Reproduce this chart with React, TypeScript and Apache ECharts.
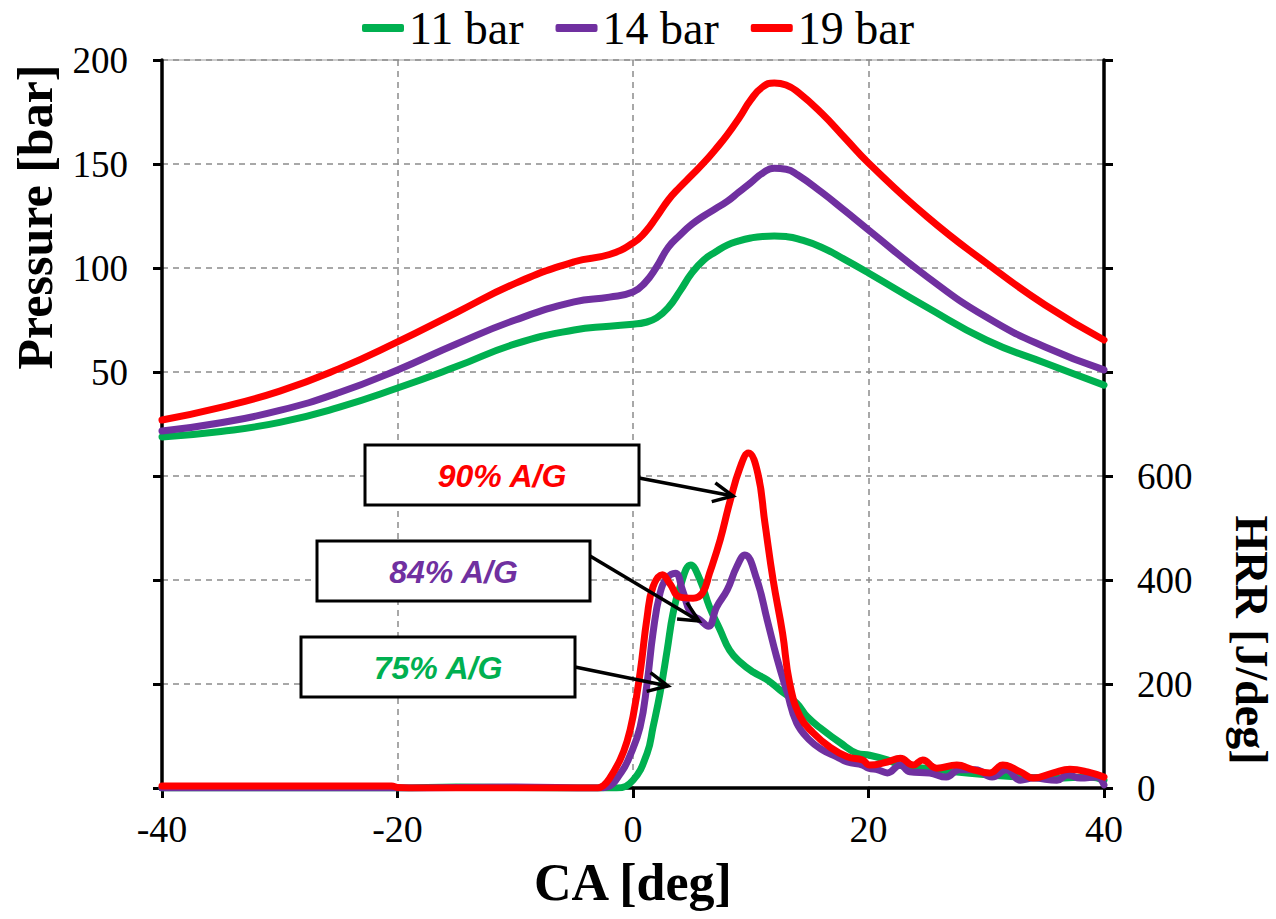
import React, { useEffect, useRef } from "react";
import * as echarts from "echarts";

// ---------- data ----------
const seriesNames = ["11 bar", "14 bar", "19 bar"];
const seriesColors = ["#00B050", "#7030A0", "#FF0000"];

// Pressure (left axis), sampled on a shared crank-angle grid
const caPressure = [-40, -35, -30, -25, -20, -15, -10, -5, -2, 0, 1, 2, 3, 4, 5, 6, 7, 8, 9, 10, 11, 12, 13, 14, 16, 18, 20, 25, 30, 35, 40];
const p11 = [18.8, 21.4, 25.8, 33, 42.3, 52.6, 63.5, 70.2, 72, 73, 73.8, 76, 81, 89, 97.6, 103.8, 107.7, 111, 113, 114.4, 115.2, 115.4, 115.1, 114, 110, 104, 97.6, 81, 65.4, 54.3, 43.7];
const p14 = [21.6, 25.6, 31.5, 40, 51, 63.5, 75, 83.7, 86, 88.5, 92.8, 100.5, 110, 115.9, 121, 125, 128.5, 132, 136.5, 141, 145.6, 148, 147.5, 144.7, 136.5, 127.5, 118.3, 95.7, 76.4, 62, 51];
const p19 = [26.9, 33, 40.8, 51.5, 64.5, 78.6, 92.6, 103, 106.5, 112, 117, 124.5, 132.7, 139, 144.7, 150.5, 157, 164, 172, 180.8, 187, 189, 188, 184.6, 174.5, 162.5, 150.5, 124.5, 102.4, 82.2, 65.4];

// Heat release rate (right axis)
const ca11 = [-40, -20, -15, -10, -5, -1.4, 0, 1.2, 1.7, 2.3, 2.9, 3.4, 4, 4.9, 5.7, 6.5, 7.4, 8.2, 9.1, 10.2, 11.4, 12.5, 13.9, 14.8, 16.1, 17.6, 19, 20.1, 21.6, 23.3, 25, 27.3, 30.2, 33, 35.9, 38.8, 40];
const hrr11 = [0, 0, 2, 1, 0, 0, 15, 67, 117, 183, 265, 336, 387, 429, 400, 348, 304, 265, 242, 223, 208, 188, 163, 137, 112, 87, 67, 63, 54, 40, 38, 31, 25, 21, 19, 21, 15];

const ca14 = [-40, -20, -10, -3, -2.2, -1, -0.3, 0.6, 1.2, 1.7, 2.3, 2.9, 3.6, 4.2, 4.9, 5.7, 6.4, 7.1, 8, 8.8, 9.5, 10.5, 11.4, 12.2, 13.1, 13.9, 15, 16.1, 17.3, 18.2, 19.5, 20, 20.8, 21.6, 22.7, 23.5, 25.2, 26.6, 27.7, 29.1, 30.5, 31.7, 32.9, 34, 36, 36.9, 38, 39.4, 40];
const hrr14 = [0, 0, 2, 0, 2, 30, 60, 117, 202, 298, 375, 404, 413, 381, 336, 323, 311, 348, 381, 425, 448, 402, 323, 252, 183, 125, 92, 73, 60, 50, 44, 38, 35, 29, 44, 31, 29, 21, 35, 35, 21, 35, 15, 19, 15, 25, 19, 21, 6];

const ca19 = [-40, -20.5, -20, -18, -15, -10, -5, -3, -2.5, -2, -1.1, -0.5, 0, 0.6, 1.2, 1.7, 2.5, 3.1, 4, 5.1, 5.9, 6.5, 7.4, 8.2, 9.1, 9.8, 10.6, 11.2, 11.9, 12.7, 13.3, 14.2, 15.3, 16.7, 18.2, 19.5, 20.1, 21.6, 22.7, 23.8, 24.6, 25.8, 27.5, 28.9, 30.3, 31.4, 32.9, 34, 35.7, 37.1, 38.6, 40];
const hrr19 = [4, 4, 1, 0, 0, 0, 0, 0, 5, 18, 54, 90, 137, 221, 329, 387, 410, 394, 367, 365, 375, 413, 477, 548, 617, 644, 605, 510, 400, 298, 202, 137, 106, 79, 60, 54, 44, 50, 57, 44, 54, 38, 44, 35, 29, 44, 31, 19, 29, 36, 31, 21];

const xTicks = { min: -40, max: 40, interval: 20 };
const pressureAxis = { min: -150, max: 200, interval: 50, labelFrom: 50 };
const hrrAxis = { min: 0, max: 1400, interval: 200, labelTo: 600 };

const annotations = [
  { text: "90% A/G", color: "#FF0000" },
  { text: "84% A/G", color: "#7030A0" },
  { text: "75% A/G", color: "#00B050" },
];

// ---------- helpers ----------
const zip = (xs: number[], ys: number[]) => xs.map((x, i) => [x, ys[i]]);

const serif = '"Liberation Serif", "Times New Roman", serif';

function arrow(x1: number, y1: number, x2: number, y2: number) {
  const ang = Math.atan2(y2 - y1, x2 - x1);
  const len = 22;
  const spread = 0.45;
  const a = [x2 - len * Math.cos(ang - spread), y2 - len * Math.sin(ang - spread)];
  const b = [x2 - len * Math.cos(ang + spread), y2 - len * Math.sin(ang + spread)];
  return [
    { type: "line", shape: { x1, y1, x2, y2 }, style: { stroke: "#000", lineWidth: 3.5 }, z: 100 },
    { type: "polyline", shape: { points: [a, [x2, y2], b] }, style: { stroke: "#000", lineWidth: 3.5, fill: null }, z: 100 },
  ];
}

function box(x: number, y: number, w: number, h: number, text: string, color: string) {
  return [
    { type: "rect", shape: { x, y, width: w, height: h }, style: { fill: "#fff", stroke: "#000", lineWidth: 3 }, z: 99 },
    {
      type: "text",
      x: x + w / 2,
      y: y + h / 2 + 1,
      z: 101,
      style: {
        text,
        fill: color,
        font: 'italic bold 32px "Liberation Sans", Arial, sans-serif',
        textAlign: "center",
        textVerticalAlign: "middle",
        align: "center",
        verticalAlign: "middle",
      },
    },
  ];
}

export default function App() {
  const ref = useRef<HTMLDivElement>(null);

  useEffect(() => {
    if (!ref.current) return;
    const chart = echarts.init(ref.current, null, { renderer: "svg" });

    const gridLine = { show: true, lineStyle: { color: "#8c8c8c", type: [6, 5], width: 1.5 } };

    const pressureData = [p11, p14, p19];
    const hrrX = [ca11, ca14, ca19];
    const hrrY = [hrr11, hrr14, hrr19];

    const series: any[] = [];
    for (let i = 0; i < 3; i++) {
      series.push({
        name: seriesNames[i],
        type: "line",
        yAxisIndex: 0,
        data: zip(caPressure, pressureData[i]),
        showSymbol: false,
        smooth: 0.5,
        lineStyle: { color: seriesColors[i], width: 7, cap: "round", join: "round" },
        itemStyle: { color: seriesColors[i] },
        z: 3 + i,
      });
    }
    for (let i = 0; i < 3; i++) {
      series.push({
        name: seriesNames[i],
        type: "line",
        yAxisIndex: 1,
        data: zip(hrrX[i], hrrY[i]),
        showSymbol: false,
        smooth: 0.45,
        lineStyle: { color: seriesColors[i], width: 7, cap: "round", join: "round" },
        itemStyle: { color: seriesColors[i] },
        z: 3 + i,
      });
    }

    const graphic: any[] = [
      {
        type: "text",
        x: 35,
        y: 217,
        rotation: Math.PI / 2,
        style: {
          text: "Pressure [bar]",
          font: `bold 50px ${serif}`,
          fill: "#000",
          textAlign: "center",
          textVerticalAlign: "middle",
          align: "center",
          verticalAlign: "middle",
        },
      },
      {
        type: "text",
        x: 1251,
        y: 640,
        rotation: -Math.PI / 2,
        style: {
          text: "HRR [J/deg]",
          font: `bold 46px ${serif}`,
          fill: "#000",
          textAlign: "center",
          textVerticalAlign: "middle",
          align: "center",
          verticalAlign: "middle",
        },
      },
      ...box(365, 445, 274, 60, annotations[0].text, annotations[0].color),
      ...box(317, 541, 273, 60, annotations[1].text, annotations[1].color),
      ...box(301, 637, 274, 60, annotations[2].text, annotations[2].color),
      ...arrow(639, 478, 733, 496),
      ...arrow(590, 556, 699, 621),
      ...arrow(575, 667, 668, 686),
    ];

    chart.setOption({
      animation: false,
      backgroundColor: "#fff",
      textStyle: { fontFamily: serif },
      legend: {
        data: seriesNames,
        top: 0,
        left: "center",
        icon: "roundRect",
        itemWidth: 42,
        itemHeight: 8,
        itemGap: 32,
        textStyle: { fontSize: 46, color: "#000", fontFamily: serif },
      },
      grid: {
        left: 162,
        right: 172,
        top: 60,
        bottom: 131,
        containLabel: false,
        outerBoundsMode: "none",
        show: true,
        borderColor: "#999",
        borderWidth: 1,
        backgroundColor: "transparent",
      },
      xAxis: {
        type: "value",
        min: xTicks.min,
        max: xTicks.max,
        interval: xTicks.interval,
        name: "CA [deg]",
        nameLocation: "middle",
        nameGap: 68,
        nameTextStyle: { fontSize: 52, fontWeight: "bold", color: "#000", fontFamily: serif },
        axisLine: { show: true, onZero: false, lineStyle: { color: "#000", width: 3.5 } },
        axisTick: { show: true, inside: false, length: 10, lineStyle: { color: "#000", width: 3 } },
        axisLabel: { fontSize: 38, color: "#000", margin: 22, fontFamily: serif },
        splitLine: gridLine,
      },
      yAxis: [
        {
          type: "value",
          position: "left",
          min: pressureAxis.min,
          max: pressureAxis.max,
          interval: pressureAxis.interval,
          axisLine: { show: true, onZero: false, lineStyle: { color: "#000", width: 3.5 } },
          axisTick: { show: true, inside: false, length: 9, lineStyle: { color: "#000", width: 3 } },
          axisLabel: {
            fontSize: 37,
            color: "#000",
            margin: 34,
            fontFamily: serif,
            formatter: (v: number) => (v >= pressureAxis.labelFrom ? String(v) : ""),
          },
          splitLine: gridLine,
        },
        {
          type: "value",
          position: "right",
          min: hrrAxis.min,
          max: hrrAxis.max,
          interval: hrrAxis.interval,
          axisLine: { show: true, onZero: false, lineStyle: { color: "#000", width: 3.5 } },
          axisTick: { show: true, inside: false, length: 9, lineStyle: { color: "#000", width: 3 } },
          axisLabel: {
            fontSize: 37,
            color: "#000",
            margin: 33,
            fontFamily: serif,
            formatter: (v: number) => (v <= hrrAxis.labelTo ? String(v) : ""),
          },
          splitLine: { show: false },
        },
      ],
      series,
      graphic,
    });

    return () => chart.dispose();
  }, []);

  return (
    <div
      ref={ref}
      style={{ position: "fixed", left: 0, top: 0, width: 1276, height: 919, background: "#fff" }}
    />
  );
}
